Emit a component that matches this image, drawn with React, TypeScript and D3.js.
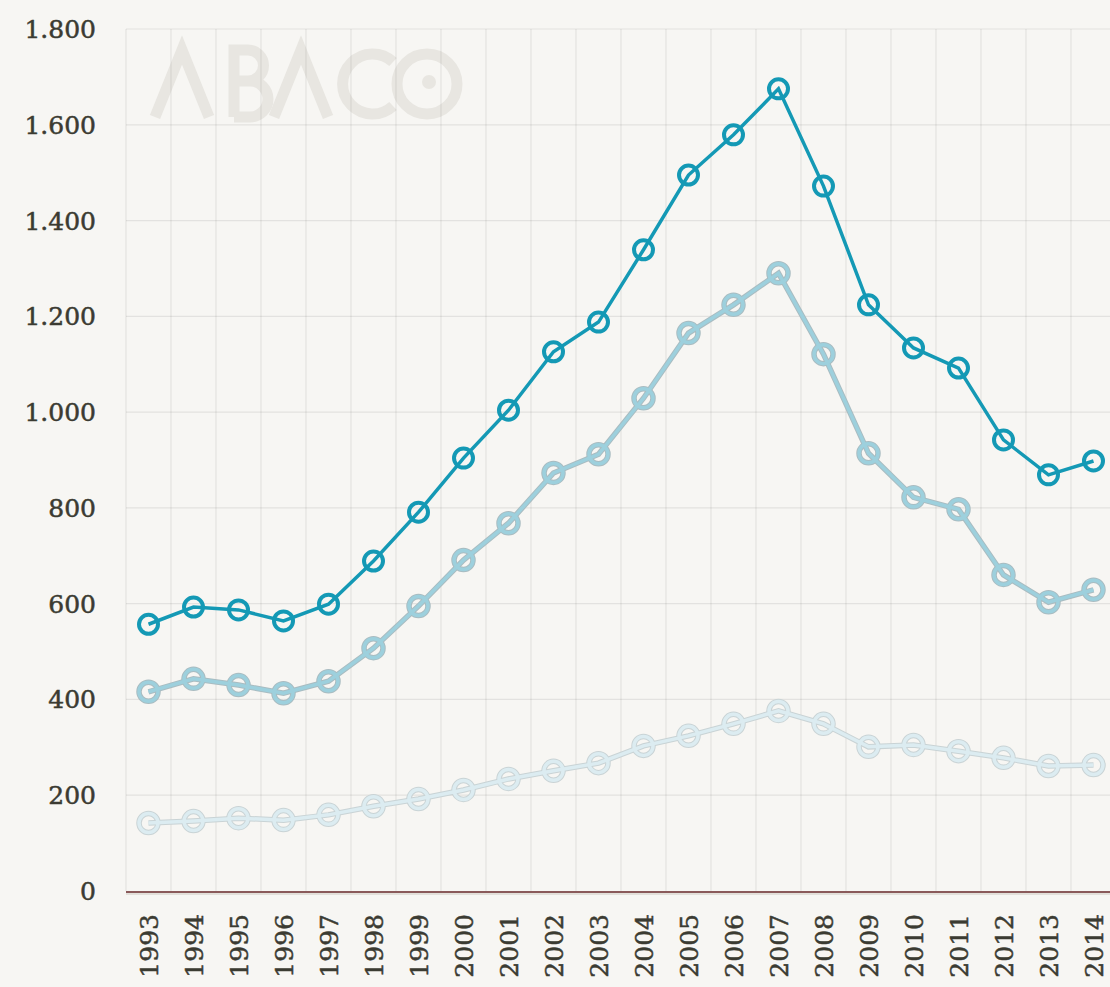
import React from 'react'
import * as d3 from 'd3'

const years = ['1993', '1994', '1995', '1996', '1997', '1998', '1999', '2000', '2001', '2002', '2003',
    '2004', '2005', '2006', '2007', '2008', '2009', '2010', '2011', '2012', '2013', '2014']
const seriesTop = [557, 593, 587, 564, 599, 689, 791, 904, 1004, 1126, 1188, 1339, 1495, 1579, 1675, 1472, 1224, 1134, 1092, 942, 869, 898]
const seriesMid = [416, 443, 430, 413, 438, 507, 595, 691, 768, 873, 912, 1029, 1165, 1224, 1290, 1121, 914, 822, 797, 660, 603, 629]
const seriesLow = [142, 146, 152, 148, 159, 177, 192, 211, 234, 251, 267, 303, 324, 349, 376, 349, 301, 305, 292, 278, 261, 263]
const yTicks = [0, 200, 400, 600, 800, 1000, 1200, 1400, 1600, 1800]

const W = 1110
const H = 987
const font = '"DejaVu Serif", serif'

const App = () => {
    const x = d3.scaleBand().domain(years).range([126, 1116])
    const y = d3.scaleLinear().domain([0, 1800]).range([891, 29])
    const cx = (i: number) => (x(years[i]) as number) + x.bandwidth() / 2
    const line = d3.line<number>().x((d, i) => cx(i)).y(d => y(d))
    const fmt = (v: number) => d3.format(',')(v).replace(',', '.')

    const series = [
        { data: seriesLow, color: '#dcecf1', halo: '#c9d3d5' },
        { data: seriesMid, color: '#9dd0dd', halo: '#a9bcc1' },
        { data: seriesTop, color: '#1499b5', halo: null },
    ]

    return (
        <div style={{ position: 'absolute', left: 0, top: 0 }}>
            <svg width={W} height={H} style={{ display: 'block', background: '#f7f6f3' }}>
                {/* logo watermark */}
                <g fill="none" stroke="#e8e6e1" strokeWidth={11}>
                    <path d="M155,117 L182,50 L209,117" />
                    <path d="M234,117 V50 H248 A15.5,15.5 0 0 1 248,81 H234 M234,81 H250 A18,18 0 0 1 250,117 H234" />
                    <path d="M274,117 L301,50 L328,117" />
                    <path d="M393,62 A30,30 0 1 0 393,106" />
                    <circle cx={427} cy={84} r={30} />
                </g>
                <circle cx={429} cy={82} r={7} fill="#e8e6e1" />

                {/* grid */}
                <g stroke="rgba(0,0,0,0.08)" strokeWidth={1.2}>
                    {years.map(yr => (
                        <line key={yr} x1={x(yr)} x2={x(yr)} y1={y(1800)} y2={y(0)} />
                    ))}
                    <line x1={1116} x2={1116} y1={y(1800)} y2={y(0)} />
                    {yTicks.filter(t => t > 0).map(t => (
                        <line key={t} x1={126} x2={W} y1={y(t)} y2={y(t)} />
                    ))}
                </g>
                <line x1={126} x2={W} y1={y(0) + 1} y2={y(0) + 1} stroke="#8a5a5a" strokeWidth={2} />
                <line x1={126} x2={W} y1={y(0) + 3} y2={y(0) + 3} stroke="#dcd8d2" strokeWidth={1.5} />

                {/* y labels */}
                {yTicks.map(t => (
                    <text key={t} x={96} y={y(t)} dy="0.36em" textAnchor="end"
                        fontFamily={font} fontSize={25} fill="#3b3b32"
                        stroke="#3b3b32" strokeWidth={0.5}>{fmt(t)}</text>
                ))}

                {/* x labels */}
                {years.map((yr, i) => (
                    <text key={yr} transform={`translate(${cx(i) + 9},914) rotate(-90)`} textAnchor="end"
                        fontFamily={font} fontSize={25} fill="#3b3b32"
                        stroke="#3b3b32" strokeWidth={0.5}>{yr}</text>
                ))}

                {/* series */}
                {series.map((s, k) => (
                    <g key={k} fill="none">
                        {s.halo && (
                            <g stroke={s.halo} strokeWidth={5.5}>
                                <path d={line(s.data) || ''} />
                                {s.data.map((d, i) => <circle key={i} cx={cx(i)} cy={y(d)} r={9.5} />)}
                            </g>
                        )}
                        <g stroke={s.color} strokeWidth={s.halo ? 3.5 : 3.5}>
                            <path d={line(s.data) || ''} />
                            {s.data.map((d, i) => (
                                <circle key={i} cx={cx(i)} cy={y(d)} r={9.5} strokeWidth={s.halo ? 3.5 : 4} />
                            ))}
                        </g>
                    </g>
                ))}
            </svg>
        </div>
    )
}

export default App
